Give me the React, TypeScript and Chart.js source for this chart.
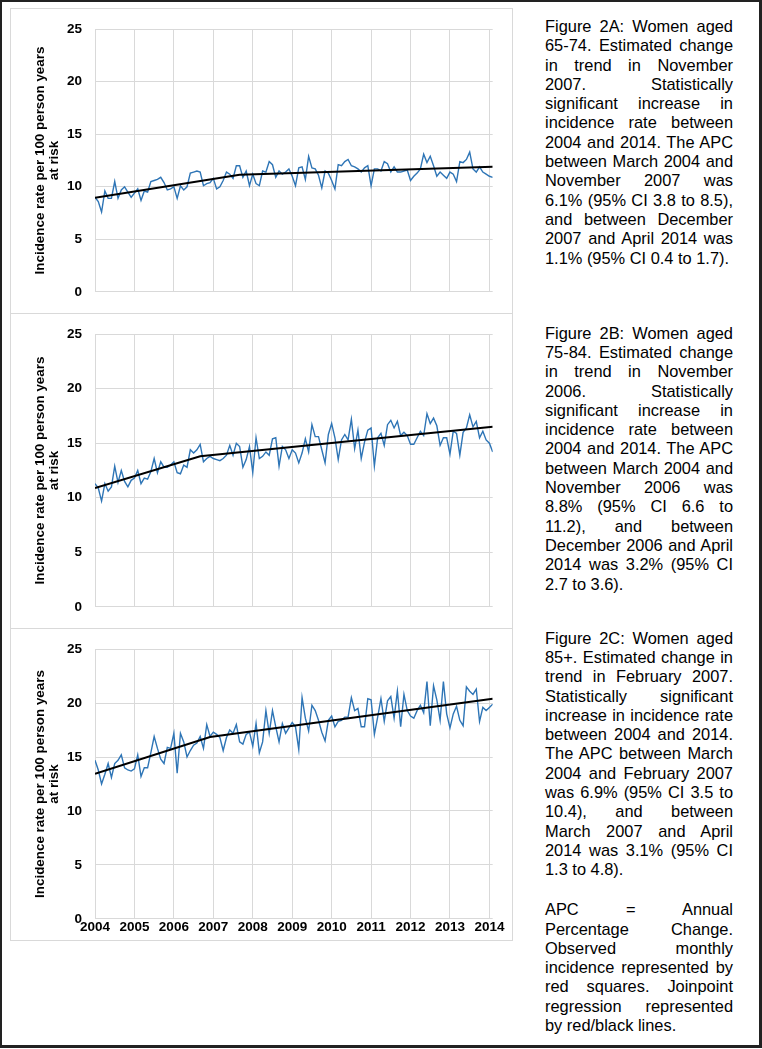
import React, { useEffect, useRef } from 'react';
import { Chart, registerables } from 'chart.js';

Chart.register(...registerables);

// ---------- data ----------
const yearLabels = ['2004', '2005', '2006', '2007', '2008', '2009', '2010', '2011', '2012', '2013', '2014'];
const yearTickIndex = [0, 12, 24, 36, 48, 60, 72, 84, 96, 108, 120];
const monthCount = 122;

// Figure 2A: women 65-74, observed monthly incidence
const obsA = [
  9.0, 8.6, 7.6, 9.6, 8.9, 8.9, 10.5, 8.9, 9.7, 10.0,
  9.5, 9.0, 9.4, 9.8, 8.7, 9.6, 9.5, 10.5, 10.6, 10.7,
  10.9, 10.4, 9.7, 9.8, 10.0, 8.9, 10.1, 9.7, 10.0, 11.3,
  11.4, 11.5, 11.4, 10.1, 10.3, 10.4, 10.8, 9.8, 10.0, 10.6,
  11.4, 11.2, 10.8, 12.0, 12.0, 10.9, 11.5, 10.1, 11.2, 10.3,
  10.1, 11.5, 11.4, 12.4, 12.1, 10.9, 11.5, 11.2, 11.4, 11.7,
  11.0, 10.1, 11.8, 11.9, 10.7, 12.9, 11.8, 11.7, 11.1, 9.9,
  11.5, 11.3, 10.6, 9.8, 12.1, 12.0, 12.4, 12.6, 12.0, 11.9,
  11.7, 11.4, 11.8, 12.0, 10.1, 11.7, 11.7, 11.5, 12.4, 12.2,
  11.4, 11.9, 11.4, 11.4, 11.5, 11.6, 10.6, 11.0, 11.3, 11.7,
  13.1, 12.3, 12.9, 12.0, 11.0, 11.4, 11.1, 10.8, 11.4, 11.2,
  10.5, 12.4, 12.3, 12.6, 13.3, 11.7, 11.4, 11.9, 11.4, 11.2,
  11.0, 10.9,
];
const trendIdxA = [0, 44, 121];
const trendValA = [8.95, 11.15, 11.9];

// Figure 2B: women 75-84
const obsB = [
  11.3, 10.9, 9.7, 11.3, 10.6, 11.0, 12.9, 11.4, 12.5, 11.5,
  11.0, 11.6, 11.8, 12.5, 11.3, 11.8, 11.7, 12.4, 13.6, 12.3,
  13.3, 12.8, 12.8, 13.0, 13.3, 12.3, 12.2, 13.0, 12.8, 14.4,
  14.1, 14.4, 14.9, 13.3, 13.6, 13.8, 13.6, 13.5, 13.4, 13.6,
  13.9, 14.8, 13.9, 15.0, 14.7, 12.8, 13.5, 14.7, 12.3, 15.5,
  13.6, 13.8, 14.2, 13.9, 15.4, 15.5, 12.9, 14.7, 14.4, 13.6,
  14.4, 14.1, 13.2, 14.1, 15.4, 14.2, 16.7, 15.6, 15.6, 14.4,
  13.2, 15.8, 16.8, 15.5, 13.5, 15.3, 15.8, 15.3, 17.2, 14.5,
  16.2, 13.6, 15.1, 16.2, 16.4, 12.9, 15.5, 15.9, 14.8, 16.7,
  17.1, 16.4, 17.0, 15.7, 16.0, 15.7, 14.9, 14.9, 15.5, 16.1,
  15.7, 17.7, 16.8, 17.3, 16.6, 14.8, 15.5, 15.5, 14.0, 16.1,
  15.9, 13.9, 16.0, 16.4, 17.6, 16.5, 17.0, 15.5, 16.1, 15.3,
  15.0, 14.2,
];
const trendIdxB = [0, 32, 121];
const trendValB = [10.9, 13.8, 16.5];

// Figure 2C: women 85+
const obsC = [
  14.7, 13.8, 12.5, 13.4, 14.4, 13.1, 14.4, 14.7, 15.2, 14.0,
  13.8, 13.7, 13.9, 15.2, 13.2, 14.0, 14.0, 15.4, 16.9, 15.8,
  14.8, 14.4, 15.9, 15.8, 17.2, 13.5, 17.2, 16.4, 15.0, 15.6,
  16.1, 16.3, 16.9, 15.8, 18.0, 16.9, 17.3, 17.1, 16.8, 15.6,
  16.8, 17.5, 17.2, 18.0, 16.4, 16.2, 17.1, 17.3, 16.0, 18.1,
  15.4, 16.4, 19.3, 17.2, 19.3, 17.8, 16.4, 18.1, 17.2, 17.7,
  18.2, 17.8, 15.7, 20.5, 18.6, 17.4, 19.8, 19.3, 18.4, 17.3,
  16.5, 18.4, 18.8, 17.8, 18.3, 18.4, 18.7, 18.7, 20.5, 19.3,
  19.5, 17.8, 17.8, 20.4, 20.3, 17.1, 18.7, 20.4, 18.3, 20.2,
  20.6, 18.6, 21.1, 17.8, 20.8, 19.3, 18.8, 18.6, 19.3, 19.8,
  19.1, 22.0, 17.9, 21.6, 20.3, 18.4, 22.0, 19.0, 17.7, 19.0,
  19.7, 18.4, 17.9, 21.5, 21.1, 20.8, 21.3, 18.3, 19.6, 19.3,
  19.6, 19.9,
];
const trendIdxC = [0, 35, 121];
const trendValC = [13.45, 16.85, 20.4];

const yMin = 0;
const yMax = 25;
const yStep = 5;
const yTitle = ['Incidence rate per 100 person years', 'at risk'];

// ---------- text ----------
const textA = [
  'Figure 2A: Women aged', '65-74. Estimated change', 'in trend in November', '2007. Statistically',
  'significant increase in', 'incidence rate between', '2004 and 2014. The APC', 'between March 2004 and',
  'November 2007 was', '6.1% (95% CI 3.8 to 8.5),', 'and between December', '2007 and April 2014 was',
  '1.1% (95% CI 0.4 to 1.7).',
];
const textB = [
  'Figure 2B: Women aged', '75-84. Estimated change', 'in trend in November', '2006. Statistically',
  'significant increase in', 'incidence rate between', '2004 and 2014. The APC', 'between March 2004 and',
  'November 2006 was', '8.8% (95% CI 6.6 to', '11.2), and between', 'December 2006 and April',
  '2014 was 3.2% (95% CI', '2.7 to 3.6).',
];
const textC = [
  'Figure 2C: Women aged', '85+. Estimated change in', 'trend in February 2007.', 'Statistically significant',
  'increase in incidence rate', 'between 2004 and 2014.', 'The APC between March', '2004 and February 2007',
  'was 6.9% (95% CI 3.5 to', '10.4), and between', 'March 2007 and April', '2014 was 3.1% (95% CI',
  '1.3 to 4.8).',
];
const textNote = [
  'APC = Annual', 'Percentage Change.', 'Observed monthly', 'incidence represented by',
  'red squares. Joinpoint', 'regression represented', 'by red/black lines.',
];

const FONT = "'Liberation Sans', Arial, Helvetica, sans-serif";

type PanelProps = {
  top: number;
  height: number;
  obs: number[];
  trendIdx: number[];
  trendVal: number[];
  showX: boolean;
  padTop: number;
  padBottom: number;
};

function Panel({ top, height, obs, trendIdx, trendVal, showX, padTop, padBottom }: PanelProps) {
  const ref = useRef<HTMLCanvasElement | null>(null);
  const width = 502;
  useEffect(() => {
    if (!ref.current) return;
    const tickFont = { family: FONT, size: 13.5, weight: 'bold' as const };
    const chart = new Chart(ref.current, {
      type: 'line',
      data: {
        datasets: [
          {
            data: trendIdx.map((x, i) => ({ x, y: trendVal[i] })),
            borderColor: '#000000',
            borderWidth: 2,
            pointRadius: 0,
            tension: 0,
          },
          {
            data: obs.map((v, i) => ({ x: i, y: v })),
            borderColor: '#2E75B6',
            borderWidth: 1.4,
            pointRadius: 0,
            tension: 0,
          },
        ],
      },
      options: {
        responsive: false,
        animation: false,
        devicePixelRatio: 1,
        layout: { padding: { left: 22.5, right: 19.3, top: padTop, bottom: padBottom } },
        plugins: { legend: { display: false }, tooltip: { enabled: false } },
        scales: {
          x: {
            type: 'linear',
            min: 0,
            max: monthCount - 1,
            afterBuildTicks: (axis: any) => {
              axis.ticks = yearTickIndex.map((v) => ({ value: v }));
            },
            ticks: {
              display: showX,
              autoSkip: false,
              maxRotation: 0,
              minRotation: 0,
              padding: 0,
              color: '#000000',
              font: tickFont,
              callback: (v: any) => yearLabels[yearTickIndex.indexOf(Number(v))] ?? '',
            },
            grid: { color: '#d9d9d9', lineWidth: 1, drawTicks: false },
            border: { display: false },
          },
          y: {
            min: yMin,
            max: yMax,
            afterFit: (axis: any) => {
              axis.width = 62.5;
            },
            ticks: { stepSize: yStep, padding: 13, color: '#000000', font: tickFont },
            grid: { color: '#d9d9d9', lineWidth: 1, drawTicks: false },
            border: { display: false },
            title: {
              display: true,
              text: yTitle,
              color: '#000000',
              padding: 0,
              font: { family: FONT, size: 13.4, weight: 'bold', lineHeight: 1.1 },
            },
          },
        },
      },
    } as any);
    return () => chart.destroy();
  }, []);
  return (
    <div style={{ position: 'absolute', left: 10, top, width: 501, height: height - 1, border: '1px solid #d9d9d9' }}>
      <canvas
        ref={ref}
        width={width}
        height={height}
        style={{ position: 'absolute', left: -1, top: -1, width, height }}
      />
    </div>
  );
}

function TextBlock({ lines, top }: { lines: string[]; top: number }) {
  return (
    <div
      style={{
        position: 'absolute',
        left: 545,
        top,
        width: 188,
        fontFamily: FONT,
        fontSize: 16.4,
        lineHeight: '19.3px',
        color: '#000',
      }}
    >
      {lines.map((l, i) => {
        const last = i === lines.length - 1;
        return (
          <div
            key={i}
            style={{
              textAlign: last ? 'left' : 'justify',
              textAlignLast: last ? 'left' : 'justify',
            } as any}
          >
            {l}
          </div>
        );
      })}
    </div>
  );
}

export default function App() {
  return (
    <div
      style={{
        position: 'absolute',
        left: 0,
        top: 0,
        width: 762,
        height: 1049,
        background: '#ffffff',
        overflow: 'hidden',
      }}
    >
      <div
        style={{
          position: 'absolute',
          left: 0,
          top: 0,
          width: 757,
          height: 1043,
          borderTop: '2px solid #222',
          borderLeft: '2px solid #222',
          borderRight: '3px solid #222',
          borderBottom: '3px solid #222',
        }}
      />
      <Panel top={8} height={305} obs={obsA} trendIdx={trendIdxA} trendVal={trendValA} showX={false} padTop={19} padBottom={18} />
      <Panel top={313} height={315} obs={obsB} trendIdx={trendIdxB} trendVal={trendValB} showX={false} padTop={20.3} padBottom={18.7} />
      <Panel top={628} height={312} obs={obsC} trendIdx={trendIdxC} trendVal={trendValC} showX={true} padTop={20.3} padBottom={2.8} />
      <TextBlock lines={textA} top={17} />
      <TextBlock lines={textB} top={323.7} />
      <TextBlock lines={textC} top={628.7} />
      <TextBlock lines={textNote} top={900.3} />
    </div>
  );
}
